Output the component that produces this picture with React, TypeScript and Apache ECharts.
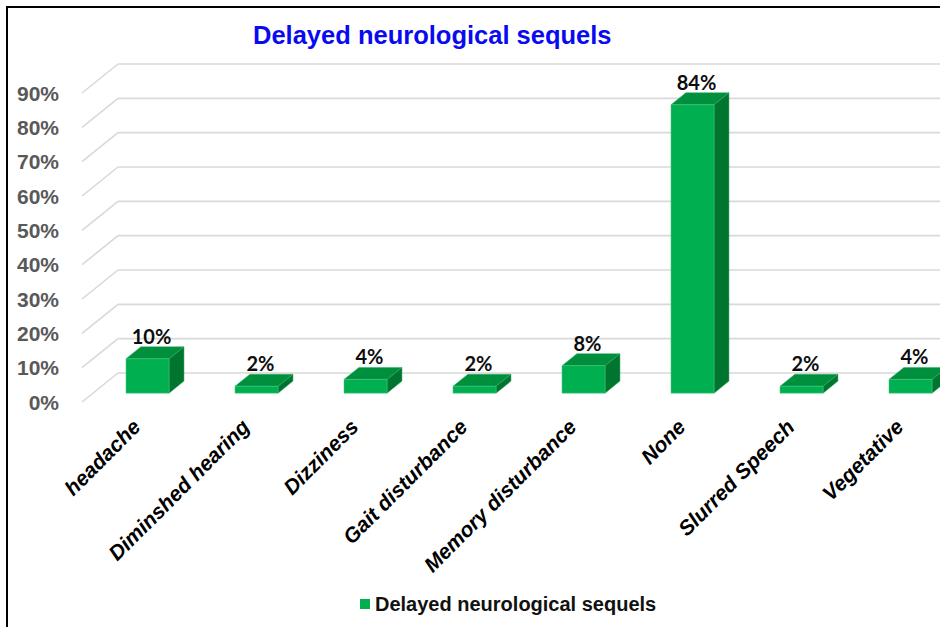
import React, { useEffect, useRef } from "react";
import * as echarts from "echarts";

const categories = [
  "headache",
  "Diminshed hearing",
  "Dizziness",
  "Gait disturbance",
  "Memory disturbance",
  "None",
  "Slurred Speech",
  "Vegetative",
];
const values = [10, 2, 4, 2, 8, 84, 2, 4];
const yTicks = [0, 10, 20, 30, 40, 50, 60, 70, 80, 90];
const seriesName = "Delayed neurological sequels";

// 3D projection constants (screen offset of the back wall)
const DEPTH_X = 36;
const DEPTH_Y = -29;
const BAR_FRONT = 0.306;
const BAR_BACK = 0.72;
const BAR_RATIO = 0.395;

export default function App() {
  const ref = useRef<HTMLDivElement>(null);
  useEffect(() => {
    document.body.style.margin = "0";
    const chart = echarts.init(ref.current!, null, { renderer: "svg" });
    const off = (d: number) => [d * DEPTH_X, d * DEPTH_Y];

    const option: any = {
      animation: false,
      backgroundColor: "#ffffff",
      title: {
        text: seriesName,
        left: 248,
        top: 17,
        textStyle: {
          fontFamily: "Liberation Sans, Arial",
          fontWeight: "bold",
          fontSize: 25.5,
          color: "#0a0af0",
        },
      },
      legend: {
        left: 355,
        top: 589,
        icon: "rect",
        itemWidth: 10,
        itemHeight: 10,
        itemGap: 4,
        data: [{ name: seriesName, itemStyle: { color: "#00b050" } }],
        textStyle: {
          fontFamily: "Liberation Sans, Arial",
          fontWeight: "bold",
          fontSize: 20,
          color: "#111111",
          padding: [0, 0, 0, 0],
        },
      },
      graphic: [
        {
          type: "rect",
          shape: { x: 7, y: 7, width: 1000, height: 1000 },
          style: { fill: "none", stroke: "#000000", lineWidth: 2 },
          silent: true,
          z: 100,
        },
      ],
      grid: {
        left: 82,
        top: 93,
        height: 309,
        width: 872,
        containLabel: false,
        outerBoundsMode: "none",
      },
      xAxis: {
        type: "category",
        data: categories,
        axisLine: { show: false },
        axisTick: { show: false },
        splitLine: { show: false },
        axisLabel: {
          interval: 0,
          rotate: 45,
          margin: 21,
          fontFamily: "Liberation Sans, Arial",
          fontWeight: "bold",
          fontStyle: "italic",
          fontSize: 21,
          color: "#000000",
        },
      },
      yAxis: {
        type: "value",
        min: 0,
        max: 90,
        interval: 10,
        axisLine: { show: false },
        axisTick: { show: false },
        splitLine: { show: false },
        axisLabel: {
          formatter: "{value}%",
          margin: 23,
          fontFamily: "Liberation Sans, Arial",
          fontWeight: "bold",
          fontSize: 21,
          color: "#595959",
        },
      },
      series: [
        {
          type: "custom",
          name: "grid3d",
          z: 1,
          clip: false,
          silent: true,
          data: yTicks.map((t) => [0, t]),
          renderItem: (params: any, api: any) => {
            const t = api.value(1);
            const band = api.size([1, 0])[0];
            const p0 = api.coord([0, t]);
            const pN = api.coord([categories.length - 1, t]);
            const left = p0[0] - band / 2;
            const right = pN[0] + band / 2;
            const y = p0[1];
            const style = { stroke: "#d9d9d9", lineWidth: 1.6 };
            return {
              type: "group",
              children: [
                {
                  type: "line",
                  shape: { x1: left, y1: y, x2: left + DEPTH_X, y2: y + DEPTH_Y },
                  style,
                },
                {
                  type: "line",
                  shape: {
                    x1: left + DEPTH_X,
                    y1: y + DEPTH_Y,
                    x2: right + DEPTH_X,
                    y2: y + DEPTH_Y,
                  },
                  style,
                },
                {
                  type: "line",
                  shape: { x1: right, y1: y, x2: right + DEPTH_X, y2: y + DEPTH_Y },
                  style,
                },
              ],
            };
          },
        },
        {
          type: "custom",
          name: seriesName,
          z: 2,
          clip: false,
          itemStyle: { color: "#00b050" },
          data: values.map((v, i) => [i, v]),
          renderItem: (params: any, api: any) => {
            const ci = api.value(0);
            const v = api.value(1);
            const band = api.size([1, 0])[0];
            const w = band * BAR_RATIO;
            const top = api.coord([ci, v]);
            const base = api.coord([ci, 0]);
            const cx = top[0];
            const f = off(BAR_FRONT);
            const b = off(BAR_BACK);
            const xl = cx - w / 2 + f[0];
            const xr = cx + w / 2 + f[0];
            const ft = top[1] + f[1];
            const fb = base[1] + f[1];
            const bxl = cx - w / 2 + b[0];
            const bxr = cx + w / 2 + b[0];
            const bt = top[1] + b[1];
            const bb = base[1] + b[1];
            return {
              type: "group",
              children: [
                {
                  type: "polygon",
                  shape: { points: [[xr, ft], [bxr, bt], [bxr, bb], [xr, fb]] },
                  style: { fill: "#00752f", stroke: "#2a9a55", lineWidth: 0.5 },
                },
                {
                  type: "polygon",
                  shape: { points: [[xl, ft], [xr, ft], [bxr, bt], [bxl, bt]] },
                  style: { fill: "#008f3d", stroke: "#2fae63", lineWidth: 0.5 },
                },
                {
                  type: "rect",
                  shape: { x: xl, y: ft, width: w, height: fb - ft },
                  style: { fill: "#00b050", stroke: "#4cc883", lineWidth: 0.5 },
                },
                {
                  type: "text",
                  x: cx + f[0] + 4,
                  y: bt - 1,
                  style: {
                    text: v + "%",
                    fill: "#0d0d0d",
                    font: "bold 20px Lato, 'Open Sans', sans-serif",
                    align: "center",
                    verticalAlign: "bottom",
                  },
                },
              ],
            };
          },
        },
      ],
    };
    chart.setOption(option);
    return () => chart.dispose();
  }, []);
  return (
    <div
      ref={ref}
      style={{ position: "fixed", left: 0, top: 0, width: 940, height: 627 }}
    />
  );
}
